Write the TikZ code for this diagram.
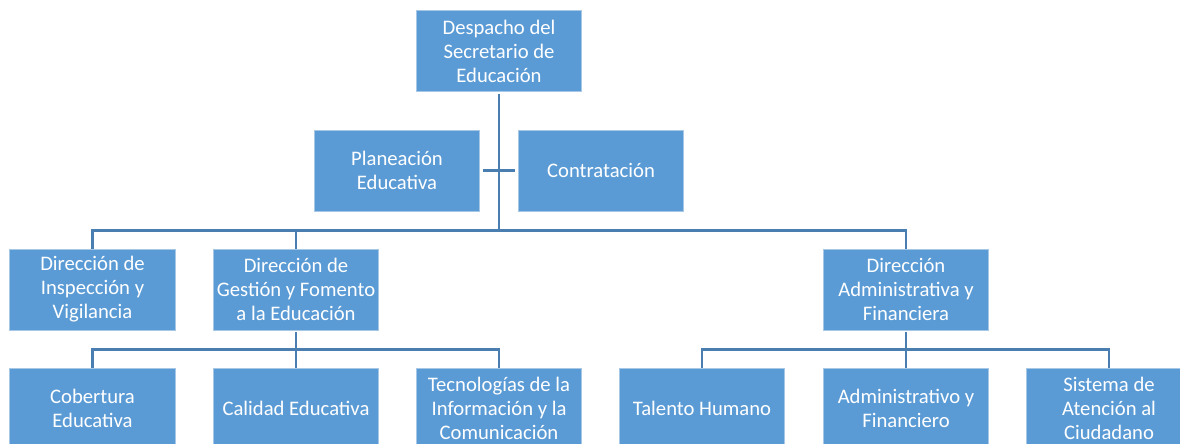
\documentclass[tikz,border=0pt]{standalone}
\usepackage{fontspec}
\setmainfont{Carlito}
\definecolor{boxblue}{HTML}{5B9BD5}
\definecolor{boxedge}{HTML}{A7C7E7}
\definecolor{linkblue}{HTML}{4A7EB0}
\tikzset{
  unit/.style={rectangle, fill=boxblue, draw=boxedge, line width=0.6pt,
    minimum width=124pt, minimum height=60.75pt, inner sep=0pt,
    align=center, text=white,
    font=\fontsize{15.5}{18}\selectfont},
  link/.style={draw=linkblue, line width=2pt}
}
\begin{document}
\begin{tikzpicture}[x=0.75pt,y=-0.75pt]
      \useasboundingbox (0,0) rectangle (1180,443);
      \clip (0,0) rectangle (1180,443);
      % top
      \node[unit] (desp) at (499,51) {Despacho del\\Secretario de\\Educación};
      \node[unit] (plan) at (397,170.5) {Planeación\\Educativa};
      \node[unit] (contr) at (601,170.5) {Contratación};
      % directions
      \node[unit] (insp) at (92.5,289.5) {Dirección de\\Inspección y\\Vigilancia};
      \node[unit] (gest) at (296,289.5) {Dirección de\\Gestión y Fomento\\a la Educación};
      \node[unit] (dadm) at (906,289.5) {Dirección\\Administrativa y\\Financiera};
      % offices
      \node[unit] (cob) at (92.5,408.5) {Cobertura\\Educativa};
      \node[unit] (cal) at (296,408.5) {Calidad Educativa};
      \node[unit] (tec) at (499,408.5) {Tecnologías de la\\Información y la\\Comunicación};
      \node[unit] (tal) at (702,408.5) {Talento Humano};
      \node[unit] (adm) at (906,408.5) {Administrativo y\\Financiero};
      \node[unit] (sis) at (1109,408.5) {Sistema de\\Atención al\\Ciudadano};
      % links
      \coordinate (bus) at (499,231);
      \draw[link] ([yshift=-1.5pt]desp.south) -- (bus);
      \draw[link,shorten <=2.25pt,shorten >=2.25pt] (plan.east) -- (contr.west);
      \draw[link] (insp.north) -- ++(0,-18) -| (dadm.north);
      \draw[link] (gest.north) -- (gest.north |- bus);
      \draw[link] ([yshift=-1.5pt]gest.south) -- (cal.north);
      \draw[link] (cob.north) -- ++(0,-18) -| (tec.north);
      \draw[link] ([yshift=-1.5pt]dadm.south) -- (adm.north);
      \draw[link] (tal.north) -- ++(0,-18) -| (sis.north);
    \end{tikzpicture}
\end{document}
